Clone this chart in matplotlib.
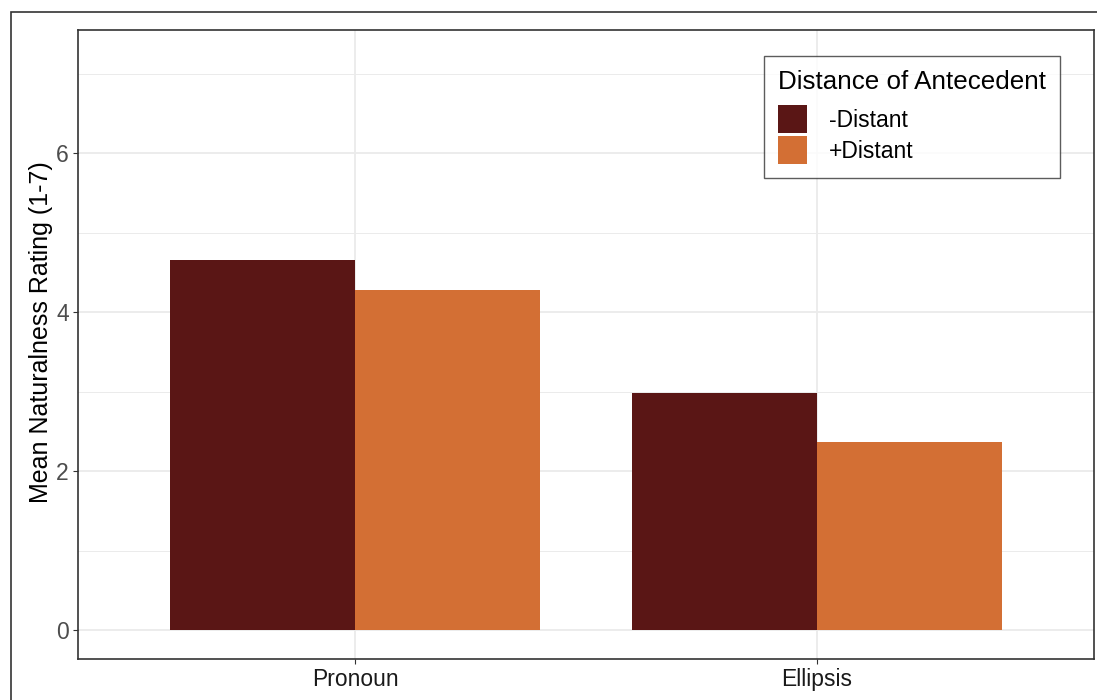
import numpy as np
import matplotlib.pyplot as plt
from matplotlib.patches import Rectangle

plt.rcParams['font.family'] = ['Liberation Sans', 'DejaVu Sans']

categories = ['Pronoun', 'Ellipsis']
groups = ['-Distant', '+Distant']
near_vals = [4.65, 2.98]
far_vals = [4.28, 2.37]
colors = ['#5A1615', '#D36F34']

W, H = 1097, 700
fig = plt.figure(figsize=(W / 100, H / 100), dpi=100)
ax = fig.add_axes([78 / W, 1 - 659 / H, (1094 - 78) / W, (659 - 30) / H])

x = np.arange(1, len(categories) + 1)
w = 0.4
ax.bar(x - w / 2, near_vals, w, color=colors[0], label=groups[0], zorder=2)
ax.bar(x + w / 2, far_vals, w, color=colors[1], label=groups[1], zorder=2)

ax.set_xlim(0.4, 2.6)
ax.set_ylim(-0.365, 7.55)
ax.set_xticks(x)
ax.set_xticklabels(categories)
ax.set_yticks([0, 2, 4, 6])
ax.set_yticks([1, 3, 5, 7], minor=True)
ax.grid(which='major', color='#EBEBEB', linewidth=1.3, zorder=0)
ax.grid(which='minor', axis='y', color='#EBEBEB', linewidth=0.7, zorder=0)
ax.tick_params(which='minor', length=0)
ax.tick_params(which='major', length=3.5, color='#333333', labelsize=16.5, pad=3)
ax.tick_params(axis='y', labelcolor='#4D4D4D')
ax.tick_params(axis='x', labelcolor='#1A1A1A')
for s in ax.spines.values():
    s.set_color('#333333')
    s.set_linewidth(1.2)
ax.set_axisbelow(True)
ax.set_ylabel('Mean Naturalness Rating (1-7)', fontsize=18)
ax.yaxis.set_label_coords(-0.025, 0.52)

leg = ax.legend(title='Distance of Antecedent', loc='upper left',
                bbox_to_anchor=((764 - 78) / 1016, 1 - (56 - 30) / 629),
                fontsize=16.5, title_fontsize=18.7, frameon=True, fancybox=False,
                edgecolor='#333333', handlelength=1.25, handleheight=1.5,
                handletextpad=0.95, labelspacing=0.12, borderpad=0.62,
                borderaxespad=0)
leg.get_frame().set_linewidth(1.0)
leg._legend_box.align = 'left'
leg._legend_box.sep = 8

fig.patches.append(Rectangle((11 / W, -0.1), 1.2, 1 - 12 / H + 0.1,
                             transform=fig.transFigure, fill=False,
                             edgecolor='#333333', linewidth=1.2))

fig.savefig('out.png', dpi=100)
